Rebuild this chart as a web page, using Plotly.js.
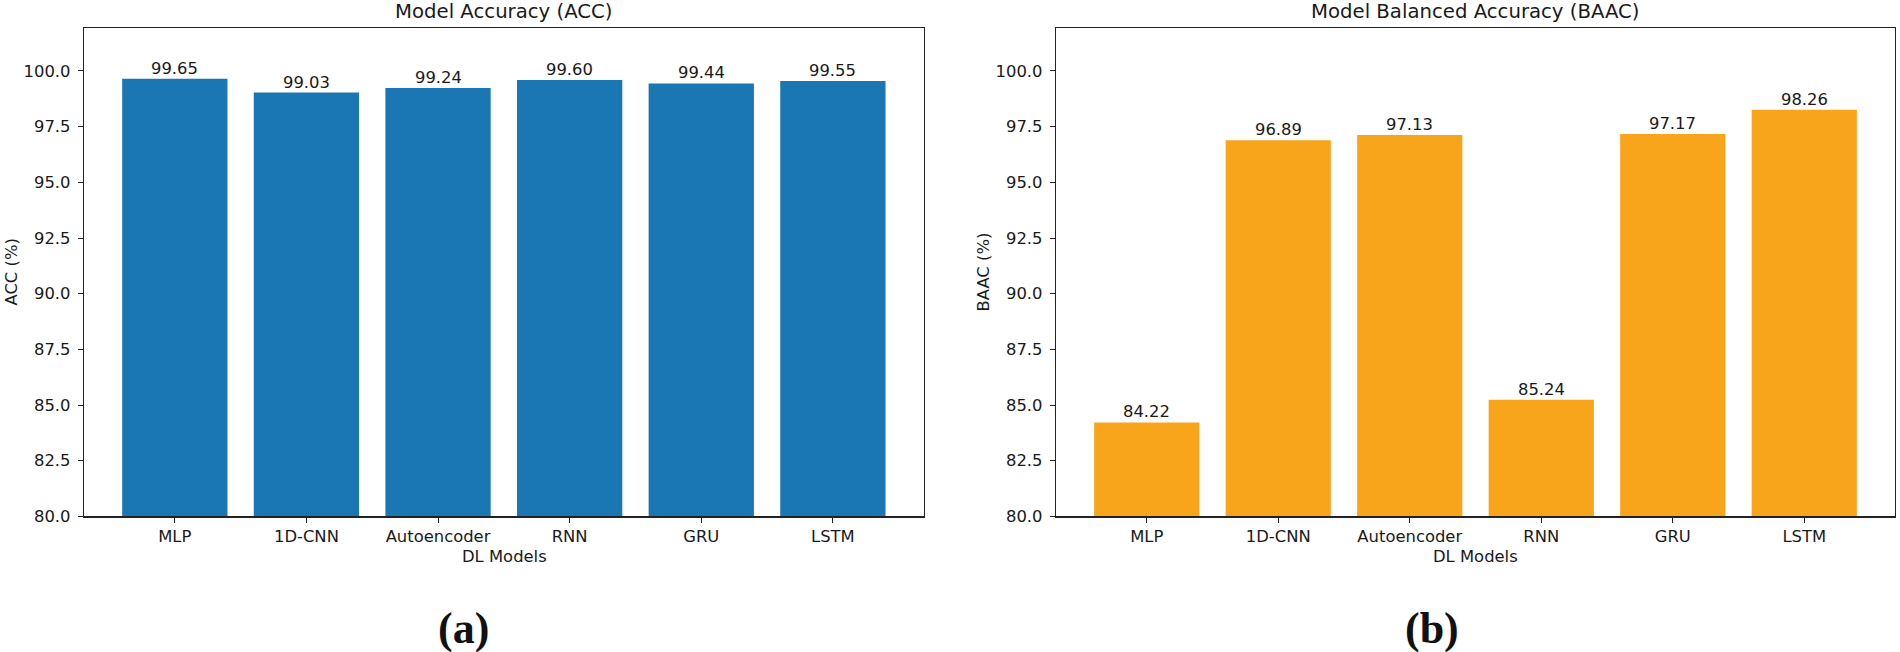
<!DOCTYPE html>
<html>
<head>
<meta charset="utf-8">
<script src="https://cdn.plot.ly/plotly-3.0.1.min.js"></script>
<style>html,body{margin:0;padding:0;background:#fff;}#chart{width:1900px;height:652px;}</style>
</head>
<body>
<div id="chart"></div>
<script>
const categories = ["MLP", "1D-CNN", "Autoencoder", "RNN", "GRU", "LSTM"];
const accValues = [99.65, 99.03, 99.24, 99.60, 99.44, 99.55];
const baacValues = [84.22, 96.89, 97.13, 85.24, 97.17, 98.26];
const yTickVals = [80.0, 82.5, 85.0, 87.5, 90.0, 92.5, 95.0, 97.5, 100.0];

const W = 1900, H = 652;
const FONT = "DejaVu Sans, sans-serif";
const TXT = "#1a1a1a";
const px = v => v / W;
const py = v => 1 - v / H;

const blue = "#1a77b4";
const orange = "#f9a51c";

const traces = [
  {type: "bar", x: categories, y: accValues, xaxis: "x", yaxis: "y",
   marker: {color: blue, line: {width: 0}}, width: 0.8, hoverinfo: "x+y"},
  {type: "bar", x: categories, y: baacValues, xaxis: "x2", yaxis: "y2",
   marker: {color: orange, line: {width: 0}}, width: 0.8, hoverinfo: "x+y"}
];

function xax(domain) {
  return {
    domain: domain, type: "category", range: [-0.69, 5.69],
    showline: true, mirror: true, linecolor: "#222", linewidth: 1.2,
    ticks: "outside", ticklen: 5, tickwidth: 1, tickcolor: "#222",
    tickfont: {family: FONT, size: 16.4, color: TXT},
    showgrid: false, zeroline: false, fixedrange: true
  };
}
function yax(anchor) {
  return {
    domain: [1 - 516.4 / H, 1 - 28 / H], anchor: anchor, range: [80, 101.93],
    tickvals: yTickVals, ticktext: yTickVals.map(v => v.toFixed(1)),
    showline: true, mirror: true, linecolor: "#222", linewidth: 1.2,
    ticks: "outside", ticklen: 5, tickwidth: 1, tickcolor: "#222",
    ticklabelstandoff: 4,
    tickfont: {family: FONT, size: 16.4, color: TXT},
    showgrid: false, zeroline: false, fixedrange: true
  };
}

const annotations = [];
function barLabels(values, xr, yr) {
  values.forEach((v, i) => {
    annotations.push({x: categories[i], y: v, xref: xr, yref: yr, text: v.toFixed(2),
      showarrow: false, yanchor: "bottom", xanchor: "center", yshift: -1,
      font: {family: FONT, size: 16.4, color: TXT}});
  });
}
barLabels(accValues, "x", "y");
barLabels(baacValues, "x2", "y2");

function txt(text, x, y, size, opts) {
  annotations.push(Object.assign({text: text, x: px(x), y: py(y), xref: "paper", yref: "paper",
    showarrow: false, xanchor: "center", yanchor: "middle",
    font: {family: FONT, size: size, color: TXT}}, opts || {}));
}
txt("Model Accuracy (ACC)", 504, 11.5, 19.7);
txt("Model Balanced Accuracy (BAAC)", 1475.5, 11.5, 19.7);
txt("DL Models", 504, 556, 16.4);
txt("DL Models", 1475.5, 556, 16.4);
txt("ACC (%)", 10.5, 272, 16.4, {textangle: -90});
txt("BAAC (%)", 982.5, 272, 16.4, {textangle: -90});
txt("<b>(a)</b>", 463.5, 628, 44, {font: {family: "Liberation Serif, Times New Roman, serif", size: 44, color: "#111"}});
txt("<b>(b)</b>", 1432, 628, 44, {font: {family: "Liberation Serif, Times New Roman, serif", size: 44, color: "#111"}});

const layout = {
  width: W, height: H,
  margin: {l: 0, r: 0, t: 0, b: 0, pad: 0},
  paper_bgcolor: "#fff", plot_bgcolor: "#fff",
  showlegend: false,
  bargap: 0.2,
  xaxis: xax([84 / W, 923.7 / W]),
  yaxis: yax("x"),
  xaxis2: Object.assign(xax([1056 / W, 1895 / W]), {anchor: "y2"}),
  yaxis2: yax("x2"),
  annotations: annotations
};
layout.xaxis.anchor = "y";

Plotly.newPlot("chart", traces, layout, {displayModeBar: false, staticPlot: true});
</script>
</body>
</html>
